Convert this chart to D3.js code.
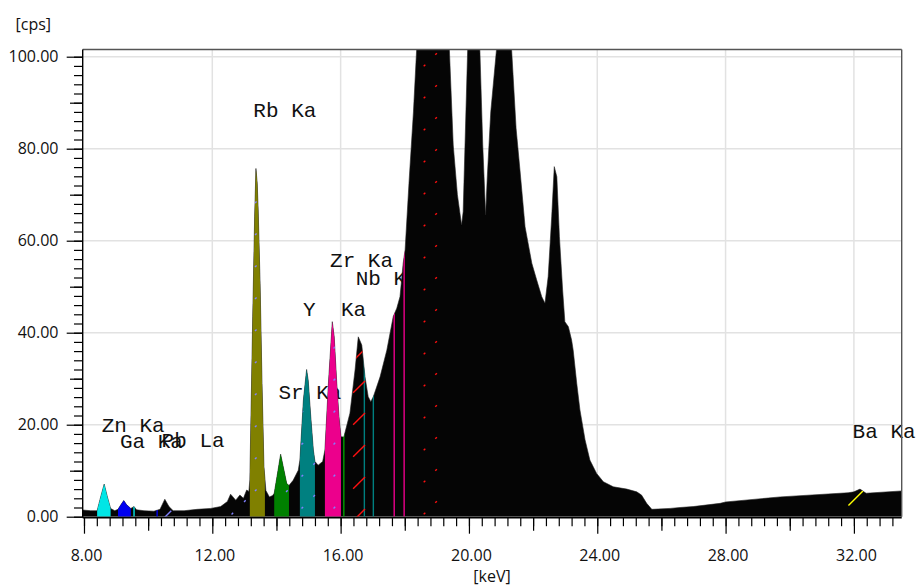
<!DOCTYPE html>
<html><head><meta charset="utf-8">
<script src="https://cdn.jsdelivr.net/npm/d3@7"></script>
<style>body{margin:0;background:#fff}svg{display:block}</style>
</head><body><svg id="chart" width="917" height="586"></svg>
<script>
// ---- data ----
const energyKeV = [7.96,8.21,8.41,8.52,8.63,8.73,8.83,8.96,9.06,9.16,9.24,9.33,9.46,9.56,9.64,9.87,10.18,10.37,10.52,10.65,10.78,11.12,11.53,11.95,12.26,12.47,12.57,12.73,12.86,12.97,13.07,13.14,13.17,13.26,13.32,13.36,13.40,13.43,13.49,13.55,13.61,13.67,13.78,13.88,13.93,14.03,14.13,14.21,14.32,14.39,14.52,14.68,14.73,14.84,14.94,14.99,15.07,15.15,15.20,15.30,15.44,15.51,15.62,15.74,15.80,15.88,15.95,16.01,16.10,16.29,16.45,16.55,16.66,16.76,16.86,16.94,17.02,17.23,17.44,17.64,17.75,17.85,17.95,18.01,18.14,18.27,18.37,18.85,19.39,19.51,19.64,19.77,19.82,19.96,20.15,20.34,20.43,20.52,20.57,20.68,20.86,21.10,21.33,21.47,21.59,21.75,21.96,22.11,22.27,22.37,22.47,22.58,22.66,22.74,22.82,22.92,22.99,23.10,23.20,23.25,23.36,23.46,23.62,23.77,23.98,24.19,24.50,24.92,25.23,25.38,25.54,25.70,26.27,26.58,26.99,27.83,28.00,29.70,31.82,32.00,32.19,32.38,33.49];
const countsCps = [1.45,1.3,1.3,4.3,7.1,4.3,1.8,1.3,1.6,2.7,3.5,2.6,1.8,2.2,1.5,1.3,1.2,1.6,3.8,2.2,1.3,1.3,1.6,1.8,2.2,3.3,4.9,3.6,4.7,4.0,5.8,5.5,8.0,43.5,65.2,75.7,72.5,66.7,50.7,29.0,10.9,5.7,4.3,4.6,5.1,9.3,13.6,10.9,7.2,6.8,7.9,10.1,12.3,25.4,32.0,29.6,21.7,14.5,12.0,11.2,12.0,14.5,29.0,42.4,39.1,29.0,21.7,17.4,17.3,22.5,31.9,39.1,37.3,30.4,26.1,25.0,26.1,30.4,36.2,43.5,45.3,47.8,55.1,58.0,73.6,88.0,101.6,150,101.6,80.8,70.0,63.4,66.3,101.6,150,101.6,80.8,65.6,73.6,88.0,101.6,125,101.6,84.4,75.4,63.0,55.1,51.5,47.8,46.4,52.2,65.2,76.1,73.9,60.9,49.3,42.4,41.3,38.4,36.2,29.0,23.2,16.7,12.3,9.4,7.6,6.5,6.0,5.4,4.7,2.9,1.6,1.8,2.0,2.2,2.9,3.2,4.3,5.2,5.4,6.0,5.1,5.6];

const roiRanges = [[8.41,8.83],[9.06,9.46],[13.17,13.64],[13.93,14.39],[14.73,15.20],[15.51,16.01]];
const roiColors = ["#00e6e6","#0000f0","#808000","#008000","#008080","#ec008c"];

const markerKeV = [9.56,10.28,16.10,16.74,17.02,17.67,17.98];
const markerColors = ["#00e6e6","#0000f0","#00a000","#008080","#008080","#ec008c","#ec008c"];

const hatchRanges = [[16.39,16.76],[18.59,18.64],[18.95,19.00],[10.49,10.72],[12.60,12.65],[12.99,13.04],[13.33,13.38],[15.78,15.83],[14.78,14.83],[15.15,15.20],[14.30,14.35],[31.83,32.29]];
const hatchColors = ["#ff1010","#ff1010","#ff1010","#8080ff","#8080ff","#8080ff","#8080ff","#8080ff","#8080ff","#8080ff","#8080ff","#ffff00"];

const labelTexts = ["Zn Ka","Ga Ka","Pb La","Rb Ka","Sr Ka","Y  Ka","Zr Ka","Nb Ka","Ba Ka"];
const labelKeV = [8.55,9.12,10.42,13.28,14.06,14.83,15.67,16.47,31.96];
const labelCps = [18.35,14.87,15.2,86.96,25.5,43.7,54.2,50.4,17.04];

const xMajorTicks = [8,12,16,20,24,28,32];
const xTickLabels = ["8.00","12.00","16.00","20.00","24.00","28.00","32.00"];
const yMajorTicks = [0,20,40,60,80,100];
const yTickLabels = ["0.00","20.00","40.00","60.00","80.00","100.00"];
const xDomain = [7.96,33.49];
const yTop = 101.55;

// ---- drawing ----
const svg = d3.select("#chart");
const x = d3.scaleLinear().domain(xDomain).range([82.7,901.7]);
const y = d3.scaleLinear().domain([0,100]).range([516.7,56.7]);
const L = x(xDomain[0]), R = x(xDomain[1]), T = y(yTop), B = y(0);

const defs = svg.append("defs");
defs.append("clipPath").attr("id","plot").append("rect")
  .attr("x",L).attr("y",T).attr("width",R-L).attr("height",B-T);

const pts = energyKeV.map((e,i)=>[e,countsCps[i]]);
const area = d3.area().x(d=>x(d[0])).y0(y(0)).y1(d=>y(d[1])).curve(d3.curveLinear);
const areaPath = area(pts);
defs.append("clipPath").attr("id","under").append("path").attr("d",areaPath);

// grid
const grid = svg.append("g").attr("stroke","#e2e2e2").attr("stroke-width",1.5);
xMajorTicks.filter(v=>v>8).forEach(v=>grid.append("line").attr("x1",x(v)).attr("x2",x(v)).attr("y1",T).attr("y2",B));
yMajorTicks.filter(v=>v>0).forEach(v=>grid.append("line").attr("x1",L).attr("x2",R).attr("y1",y(v)).attr("y2",y(v)));

// peak labels (drawn beneath the spectrum)
svg.append("g").selectAll("text").data(labelTexts).join("text")
  .attr("x",(d,i)=>x(labelKeV[i])).attr("y",(d,i)=>y(labelCps[i]))
  .attr("font-family","'Liberation Mono', 'DejaVu Sans Mono', monospace")
  .attr("font-size",21).attr("fill","#111").style("white-space","pre")
  .attr("xml:space","preserve").text(d=>d);

const plot = svg.append("g").attr("clip-path","url(#plot)");
plot.append("path").attr("d",areaPath).attr("fill","#050505").attr("stroke","#222").attr("stroke-width",0.6);

// ROI fills
roiRanges.forEach((r,i)=>{
  const id="roi"+i;
  defs.append("clipPath").attr("id",id).append("rect")
    .attr("x",x(r[0])).attr("y",T).attr("width",x(r[1])-x(r[0])).attr("height",B-T);
  plot.append("g").attr("clip-path",`url(#${id})`)
    .append("path").attr("d",areaPath).attr("fill",roiColors[i]);
});

// marker lines under curve
const under = plot.append("g").attr("clip-path","url(#under)");
markerKeV.forEach((k,i)=>{
  under.append("line").attr("x1",x(k)).attr("x2",x(k)).attr("y1",T).attr("y2",B)
    .attr("stroke",markerColors[i]).attr("stroke-width",1.4);
});

// hatch (45° lines, period 32px)
hatchRanges.forEach((r,i)=>{
  const x0=x(r[0]), x1=x(r[1]);
  const g = under.append("g").attr("stroke",hatchColors[i]).attr("stroke-width",1.4);
  for(let c=10; c<1600; c+=32){
    // line: x + y = c
    const ya=c-x0, yb=c-x1;
    if(Math.max(ya,yb)<T || Math.min(ya,yb)>B) continue;
    g.append("line").attr("x1",x0).attr("y1",ya).attr("x2",x1).attr("y2",yb);
  }
});

// frame
svg.append("line").attr("x1",L).attr("x2",R).attr("y1",T).attr("y2",T).attr("stroke","#555").attr("stroke-width",1.4);
svg.append("line").attr("x1",R).attr("x2",R).attr("y1",T).attr("y2",B).attr("stroke","#555").attr("stroke-width",1.4);

// axes
const tickFont = "'Open Sans', 'Noto Sans', sans-serif";
const xMinor = d3.range(0,64).map(i=>8+0.4*i).filter(v=>v<=xDomain[1]);
function xAxis(vals,len){
  svg.append("g").attr("transform",`translate(0,${B+1})`)
    .call(d3.axisBottom(x).tickValues(vals).tickSize(len).tickFormat(""))
    .call(g=>{g.select(".domain").remove();g.selectAll("line").attr("stroke","#000").attr("stroke-width",1.2);});
}
xAxis(xMinor,8.5);
xAxis(xMinor.filter((v,i)=>i%10===5),13);
xAxis(xMajorTicks,16);
svg.append("line").attr("x1",L).attr("x2",R).attr("y1",B+1).attr("y2",B+1).attr("stroke","#000").attr("stroke-width",1.4);
svg.append("g").selectAll("text").data(xTickLabels).join("text")
  .attr("x",(d,i)=>x(xMajorTicks[i])+2.5).attr("y",560.5).attr("text-anchor","middle")
  .attr("font-family",tickFont).attr("font-size",16).attr("fill","#111").text(d=>d);

const yMinor = d3.range(0,51).map(i=>2*i);
function yAxis(vals,len){
  svg.append("g").attr("transform",`translate(${L},0)`)
    .call(d3.axisLeft(y).tickValues(vals).tickSize(len).tickFormat(""))
    .call(g=>{g.select(".domain").remove();g.selectAll("line").attr("stroke","#000").attr("stroke-width",1.2);});
}
yAxis(yMinor,8.7);
yAxis(yMinor.filter(v=>v%20===10),12.7);
yAxis(yMajorTicks,16);
svg.append("line").attr("x1",L).attr("x2",L).attr("y1",T).attr("y2",B+1).attr("stroke","#000").attr("stroke-width",1.4);
svg.append("g").selectAll("text").data(yTickLabels).join("text")
  .attr("x",58.5).attr("y",(d,i)=>y(yMajorTicks[i])).attr("dy","0.36em").attr("text-anchor","end")
  .attr("font-family",tickFont).attr("font-size",16).attr("fill","#111").text(d=>d);

svg.append("text").attr("x",15.5).attr("y",30).attr("font-family",tickFont).attr("font-size",16).attr("fill","#111").text("[cps]");
svg.append("text").attr("x",492).attr("y",582).attr("text-anchor","middle").attr("font-family",tickFont).attr("font-size",16).attr("fill","#111").text("[keV]");
</script></body></html>
